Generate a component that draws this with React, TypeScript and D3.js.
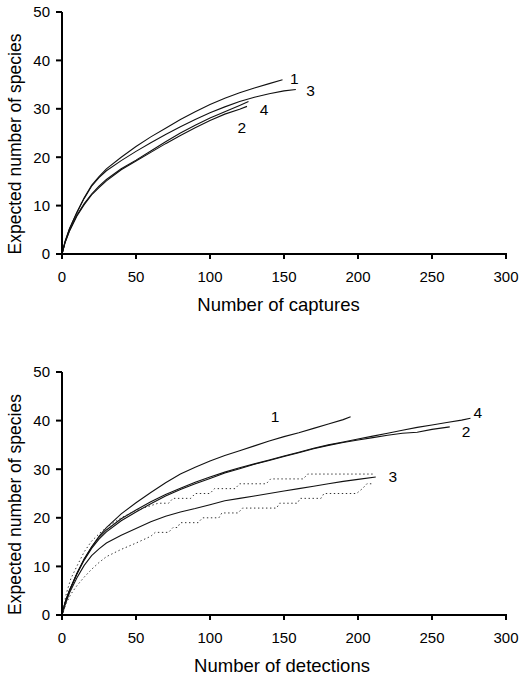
import * as d3 from "d3";

type Pt = [number, number];

const xTicks = [0, 50, 100, 150, 200, 250, 300];
const yTicks = [0, 10, 20, 30, 40, 50];

// top panel: rarefaction by captures
const captures1: Pt[] = [[0, 0], [2, 2.5], [5, 5.2], [10, 8.6], [15, 11.6], [20, 14.2], [25, 16.0], [30, 17.6], [40, 20.0], [50, 22.2], [60, 24.2], [70, 26.0], [80, 27.8], [90, 29.4], [100, 30.9], [110, 32.2], [120, 33.3], [130, 34.3], [140, 35.2], [149, 36.0]];
const captures2: Pt[] = [[0, 0], [2, 2.3], [5, 4.7], [10, 7.8], [15, 10.2], [20, 12.2], [25, 13.7], [30, 15.1], [40, 17.4], [50, 19.2], [60, 21.0], [70, 22.8], [80, 24.5], [90, 26.1], [100, 27.6], [110, 28.9], [120, 29.9], [125, 30.5]];
const captures3: Pt[] = [[0, 0], [2, 2.5], [5, 5.2], [10, 8.5], [15, 11.5], [20, 14.0], [25, 15.8], [30, 17.2], [40, 19.3], [50, 21.2], [60, 23.0], [70, 24.7], [80, 26.3], [90, 27.8], [100, 29.2], [110, 30.4], [120, 31.5], [130, 32.4], [140, 33.1], [150, 33.7], [158, 34.0]];
const captures4: Pt[] = [[0, 0], [2, 2.3], [5, 4.8], [10, 8.0], [15, 10.4], [20, 12.4], [25, 14.0], [30, 15.4], [40, 17.6], [50, 19.4], [60, 21.3], [70, 23.2], [80, 25.0], [90, 26.6], [100, 28.1], [110, 29.4], [120, 30.7], [126, 31.5]];

// bottom panel: rarefaction by detections
const detections1: Pt[] = [[0, 0], [2, 2.5], [5, 5.0], [10, 8.5], [15, 11.5], [20, 14.0], [25, 16.2], [30, 18.0], [40, 20.8], [50, 23.1], [60, 25.2], [70, 27.2], [80, 29.0], [90, 30.4], [100, 31.7], [110, 32.8], [120, 33.8], [130, 34.8], [140, 35.8], [150, 36.7], [160, 37.5], [170, 38.4], [180, 39.3], [190, 40.2], [195, 40.8]];
const detections2: Pt[] = [[0, 0], [2, 2.5], [5, 5.0], [10, 8.4], [15, 11.3], [20, 13.7], [25, 15.6], [30, 17.1], [40, 19.4], [50, 21.2], [60, 22.9], [70, 24.5], [80, 25.8], [90, 27.0], [100, 28.1], [110, 29.2], [120, 30.1], [130, 31.0], [140, 31.8], [150, 32.6], [160, 33.4], [170, 34.2], [180, 34.9], [190, 35.5], [200, 36.0], [210, 36.5], [220, 37.0], [230, 37.4], [240, 37.6], [250, 38.2], [262, 38.7]];
const detections3: Pt[] = [[0, 0], [2, 2.0], [5, 4.5], [10, 7.6], [15, 10.2], [20, 12.2], [25, 13.6], [30, 14.8], [40, 16.4], [50, 17.8], [60, 19.2], [70, 20.3], [80, 21.2], [90, 21.9], [100, 22.7], [110, 23.5], [120, 24.0], [130, 24.5], [140, 25.0], [150, 25.5], [160, 26.0], [170, 26.5], [180, 27.0], [190, 27.5], [200, 27.9], [212, 28.4]];
const detections4: Pt[] = [[0, 0], [2, 2.5], [5, 5.0], [10, 8.5], [15, 11.5], [20, 14.0], [25, 16.0], [30, 17.5], [40, 19.8], [50, 21.6], [60, 23.3], [70, 24.8], [80, 26.1], [90, 27.3], [100, 28.4], [110, 29.4], [120, 30.3], [130, 31.1], [140, 31.9], [150, 32.7], [160, 33.5], [170, 34.3], [180, 35.0], [190, 35.6], [200, 36.2], [210, 36.8], [220, 37.4], [230, 38.0], [240, 38.6], [250, 39.1], [260, 39.6], [270, 40.1], [276, 40.5]];
const detections3Upper: Pt[] = [[0, 0], [3, 4.5], [6, 7.5], [10, 10.0], [15, 13.0], [20, 15.2], [25, 16.7], [30, 18.0], [40, 20.0], [50, 21.5], [58, 22.3], [65, 23], [72, 23], [75, 24], [87, 24], [90, 25], [100, 25], [103, 26], [117, 26], [120, 27], [138, 27], [141, 28], [163, 28], [166, 29], [210, 29]];
const detections3Lower: Pt[] = [[0, 0], [3, 2.5], [6, 4.3], [10, 6.0], [15, 7.8], [20, 9.4], [25, 10.8], [30, 12.0], [40, 13.5], [50, 14.8], [60, 16.2], [63, 17], [72, 17], [75, 18], [78, 18], [80, 19], [92, 19], [95, 20], [106, 20], [108, 21], [119, 21], [122, 22], [145, 22], [147, 23], [159, 23], [161, 24], [175, 24], [177, 25], [199, 25], [203, 26], [206, 27], [210, 27]];

const captureLabels: { t: string; x: number; y: number }[] = [
  { t: "1", x: 157, y: 36.2 },
  { t: "3", x: 168, y: 33.7 },
  { t: "4", x: 136.5, y: 29.8 },
  { t: "2", x: 121.5, y: 26.2 },
];
const detectionLabels: { t: string; x: number; y: number }[] = [
  { t: "1", x: 144, y: 40.8 },
  { t: "4", x: 281, y: 41.6 },
  { t: "2", x: 273, y: 37.7 },
  { t: "3", x: 223.5, y: 28.6 },
];

const FONT = "'Liberation Sans', Arial, Helvetica, sans-serif";

function Panel({ top, bottom, solid, dotted, labels, title, titleX }: {
  top: number; bottom: number; solid: Pt[][]; dotted: Pt[][];
  labels: { t: string; x: number; y: number }[]; title: string; titleX: number;
}) {
  const x = d3.scaleLinear().domain([0, 300]).range([62, 506]);
  const y = d3.scaleLinear().domain([0, 50]).range([bottom, top]);
  const line = d3.line<Pt>().x(d => x(d[0])).y(d => y(d[1]));

  return (
    <g fontFamily={FONT}>
      {solid.map((s, i) => (
        <path key={"s" + i} d={line(s) || ""} fill="none" stroke="#111" strokeWidth={1.1} />
      ))}
      {dotted.map((s, i) => (
        <path key={"d" + i} d={line(s) || ""} fill="none" stroke="#333" strokeWidth={1} strokeDasharray="1.4 2.6" />
      ))}
      <line x1={x(0)} x2={x(0)} y1={y(0) + 1} y2={y(50)} stroke="#000" strokeWidth={2} />
      <line x1={x(0) - 1} x2={x(300) + 1} y1={y(0)} y2={y(0)} stroke="#000" strokeWidth={2} />
      {yTicks.map(t => (
        <g key={"y" + t}>
          <line x1={x(0) - 6} x2={x(0)} y1={y(t)} y2={y(t)} stroke="#000" strokeWidth={2} />
          <text x={50} y={y(t)} dy="0.36em" textAnchor="end" fontSize={15}>{t}</text>
        </g>
      ))}
      {xTicks.map(t => (
        <g key={"x" + t}>
          <line x1={x(t)} x2={x(t)} y1={y(0)} y2={y(0) + 5} stroke="#000" strokeWidth={2} />
          <text x={x(t)} y={y(0) + 28} textAnchor="middle" fontSize={15}>{t}</text>
        </g>
      ))}
      {labels.map(l => (
        <text key={l.t} x={x(l.x)} y={y(l.y)} dy="0.36em" textAnchor="middle" fontSize={15.5}>{l.t}</text>
      ))}
      <text x={titleX} y={y(0) + 57} textAnchor="middle" fontSize={18.5}>{title}</text>
      <text transform={`translate(21,${(top + bottom) / 2 + 11}) rotate(-90)`} textAnchor="middle" fontSize={17.5}>
        Expected number of species
      </text>
    </g>
  );
}

export default function App() {
  return (
    <svg width={519} height={679} style={{ position: "absolute", left: 0, top: 0, background: "#fff" }}>
      <Panel top={12} bottom={254} solid={[captures1, captures2, captures3, captures4]} dotted={[]}
        labels={captureLabels} title="Number of captures" titleX={278.5} />
      <Panel top={372} bottom={615} solid={[detections1, detections2, detections3, detections4]}
        dotted={[detections3Upper, detections3Lower]} labels={detectionLabels} title="Number of detections" titleX={282} />
    </svg>
  );
}
